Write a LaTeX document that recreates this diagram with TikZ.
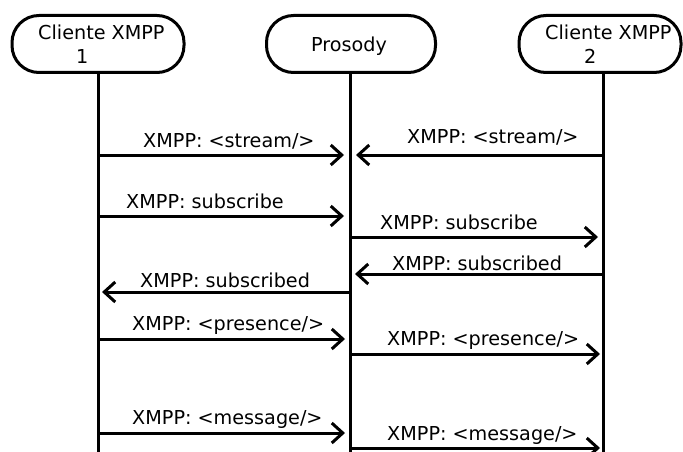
\documentclass[tikz,border=0pt]{standalone}
\usepackage{fontspec}
\setmainfont{DejaVu Sans}
\usetikzlibrary{arrows.meta}
\begin{document}
\begin{tikzpicture}[x=1pt,y=-1pt,
  actor/.style={draw,line width=3pt,rounded corners=27pt,minimum width=#1,minimum height=57pt,inner sep=0pt},
  life/.style={line width=3pt},
  msg/.style={line width=3pt,-{Straight Barb[length=11pt,width=20pt,line width=3pt]}},
  lbl/.style={anchor=base west,inner sep=0pt,font=\fontsize{19.2}{23}\selectfont}]
\useasboundingbox (0,0) rectangle (683,452);
% actors
\node[actor=172pt] (c1) at (98,44) {};
\node[actor=169pt] (pr) at (351,44) {};
\node[actor=162pt] (c2) at (600,44) {};
\node[lbl] (c1a) at (38,40) {Cliente XMPP};
\node[lbl] (c1b) at (76,64) {1};
\node[lbl] (pra) at (311,52) {Prosody};
\node[lbl] (c2a) at (545,40) {Cliente XMPP};
\node[lbl] (c2b) at (584,64) {2};
% lifelines
\coordinate (l1) at (98,452);
\coordinate (l2) at (350,452);
\coordinate (l3) at (603,452);
\draw[life] (c1.south -| l1) -- (l1);
\draw[life] (pr.south -| l2) -- (l2);
\draw[life] (c2.south -| l3) -- (l3);
% message end points
\coordinate (m1a) at (98,155);  \coordinate (m1b) at (344,155);
\coordinate (m2a) at (603,155); \coordinate (m2b) at (356,155);
\coordinate (m3a) at (98,216);  \coordinate (m3b) at (344,216);
\coordinate (m4a) at (350,237); \coordinate (m4b) at (598,237);
\coordinate (m5a) at (603,274); \coordinate (m5b) at (355,274);
\coordinate (m6a) at (350,292); \coordinate (m6b) at (102,292);
\coordinate (m7a) at (98,339);  \coordinate (m7b) at (345,339);
\coordinate (m8a) at (350,354); \coordinate (m8b) at (600,354);
\coordinate (m9a) at (98,433);  \coordinate (m9b) at (345,433);
\coordinate (m10a) at (350,448); \coordinate (m10b) at (600,448);
\draw[msg] (m1a) -- (m1b);
\draw[msg] (m2a) -- (m2b);
\draw[msg] (m3a) -- (m3b);
\draw[msg] (m4a) -- (m4b);
\draw[msg] (m5a) -- (m5b);
\draw[msg] (m6a) -- (m6b);
\draw[msg] (m7a) -- (m7b);
\draw[msg] (m8a) -- (m8b);
\draw[msg] (m9a) -- (m9b);
\draw[msg] (m10a) -- (m10b);
% labels
\node[lbl] (t1) at (143,147) {XMPP: <stream/>};
\node[lbl] (t2) at (407,143) {XMPP: <stream/>};
\node[lbl] (t3) at (126,208) {XMPP: subscribe};
\node[lbl] (t4) at (380,229) {XMPP: subscribe};
\node[lbl] (t5) at (392,270) {XMPP: subscribed};
\node[lbl] (t6) at (140,287) {XMPP: subscribed};
\node[lbl] (t7) at (132,330) {XMPP: <presence/>};
\node[lbl] (t8) at (387,345) {XMPP: <presence/>};
\node[lbl] (t9) at (132,424) {XMPP: <message/>};
\node[lbl] (t10) at (387,440) {XMPP: <message/>};
\end{tikzpicture}
\end{document}
